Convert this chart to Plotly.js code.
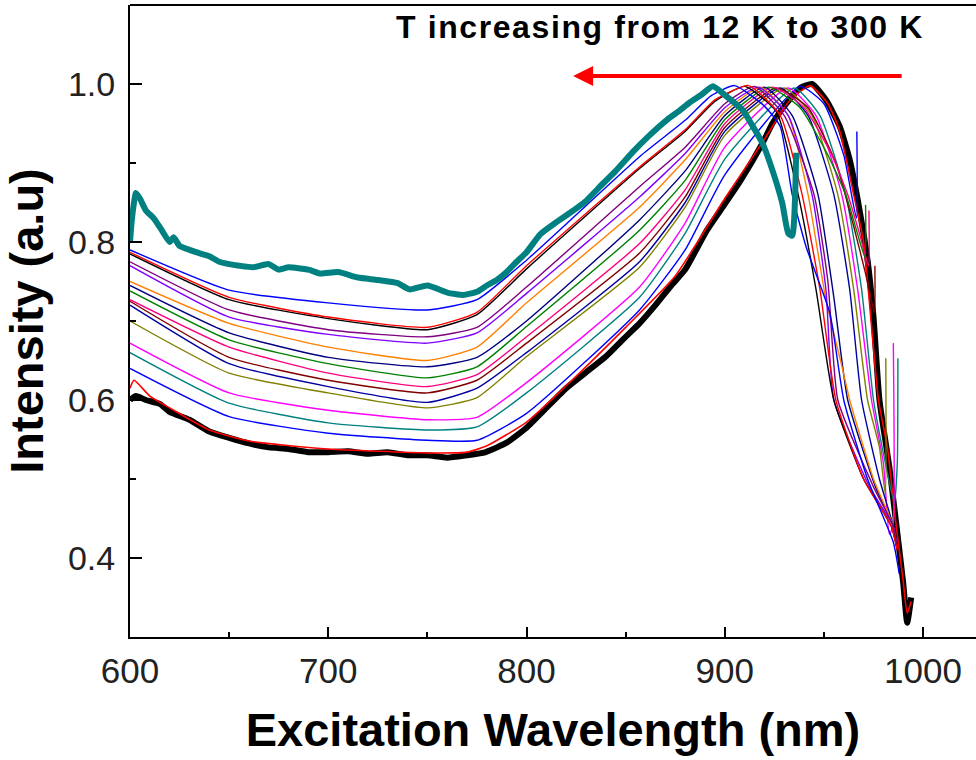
<!DOCTYPE html>
<html>
<head>
<meta charset="utf-8">
<script src="https://cdn.plot.ly/plotly-3.0.1.min.js"></script>
<style>
html,body{margin:0;padding:0;overflow:hidden;background:#fff;}
#chart{width:976px;height:760px;}
.annotation-text{letter-spacing:1.6px;}
</style>
</head>
<body>
<div id="chart"></div>
<script>
// ---- data ----
const tealThickX = [600,601,603,605,608,612,616,620,622,625,630,636,640,645,650,655,662,670,675,680,690,696,705,715,725,735,741,750,760,768,775,780,785,790,795,800,807,815,822,830,837,845,854,862,871,877,882,888,894,900,909,914,919,924,929,932,934,936];
const tealThickY = [0.80,0.83,0.862,0.855,0.84,0.83,0.815,0.80,0.806,0.795,0.79,0.785,0.782,0.775,0.772,0.77,0.768,0.772,0.765,0.768,0.765,0.76,0.762,0.755,0.752,0.748,0.74,0.745,0.736,0.733,0.737,0.745,0.752,0.762,0.775,0.787,0.81,0.825,0.837,0.852,0.87,0.89,0.915,0.935,0.955,0.966,0.976,0.986,0.997,0.986,0.967,0.947,0.925,0.891,0.849,0.811,0.808,0.913];

const blackThickX = [600,603,608,615,620,630,640,650,660,670,680,690,700,710,720,730,740,750,760,770,778,785,790,800,810,820,830,840,850,857,865,873,880,891,900,908,919,924,931,938,944,951,958,963,968,972,975,978,983,987,990,992,994];
const blackThickY = [0.60,0.605,0.60,0.595,0.585,0.575,0.56,0.552,0.545,0.54,0.538,0.534,0.534,0.535,0.532,0.534,0.53,0.53,0.527,0.53,0.533,0.54,0.546,0.565,0.59,0.615,0.635,0.655,0.68,0.697,0.72,0.745,0.765,0.815,0.848,0.878,0.925,0.95,0.975,0.995,1.0,0.98,0.946,0.904,0.84,0.777,0.705,0.60,0.515,0.432,0.368,0.318,0.35];

const redLowX = [600,602,610,620,640,660,700,750,770,780,800,820,850,875,900,920,932,943,952,958,965,970,977.5,982,986,990,992,994];
const redLowY = [0.615,0.625,0.605,0.59,0.562,0.548,0.538,0.533,0.534,0.542,0.572,0.618,0.692,0.757,0.855,0.93,0.977,0.998,0.975,0.94,0.86,0.80,0.60,0.54,0.45,0.37,0.33,0.345];

const blue2X = [600,650,700,750,775,800,857,880,900,938,950,960,966.4,966.6];
const blue2Y = [0.64,0.579,0.558,0.549,0.549,0.583,0.714,0.79,0.885,0.997,0.975,0.91,0.83,0.94];

const tealThinX = [600,650,700,750,775,800,857,880,900,935,948,961,969,975,981,985.5,987,987.3];
const tealThinY = [0.66,0.596,0.571,0.562,0.566,0.609,0.73,0.811,0.905,0.995,0.96,0.86,0.74,0.60,0.52,0.47,0.52,0.653];

const magentaX = [600,650,700,750,775,800,857,880,900,932,946,959,967,974,980,983,984.8,985];
const magentaY = [0.672,0.609,0.587,0.575,0.578,0.622,0.743,0.824,0.92,0.995,0.96,0.86,0.74,0.60,0.52,0.43,0.44,0.672];

const oliveX = [600,650,700,750,775,800,857,880,900,930,944,957,965,972,978,981,981.2];
const oliveY = [0.70,0.634,0.609,0.59,0.603,0.655,0.768,0.844,0.935,0.995,0.96,0.86,0.74,0.60,0.54,0.48,0.653];

const navy2X = [600,650,700,750,775,800,857,880,900,928,942,955,963,969,978,985,987];
const navy2Y = [0.72,0.646,0.617,0.597,0.615,0.66,0.775,0.85,0.94,0.995,0.96,0.86,0.74,0.60,0.50,0.44,0.41];

const wineX = [600,650,700,750,775,800,857,880,900,926,942,956,965,971,975.5,975.7];
const wineY = [0.725,0.654,0.625,0.609,0.625,0.672,0.786,0.857,0.945,0.995,0.97,0.9,0.82,0.76,0.71,0.77];

const pinkX = [600,650,700,750,775,800,857,880,900,924,940,954,962,968,972.5,972.7];
const pinkY = [0.727,0.667,0.634,0.617,0.632,0.68,0.798,0.866,0.95,0.996,0.97,0.91,0.86,0.81,0.77,0.84];

const greenX = [600,650,700,750,775,800,857,880,900,922,938,952,961,967,970.8,971];
const greenY = [0.738,0.676,0.646,0.628,0.642,0.693,0.815,0.878,0.955,0.996,0.97,0.91,0.86,0.81,0.78,0.847];

const navyX = [600,650,700,750,775,800,857,880,900,920,934,947,955,962,976,985,987];
const navyY = [0.745,0.685,0.654,0.642,0.654,0.70,0.828,0.89,0.96,0.996,0.96,0.86,0.73,0.60,0.49,0.44,0.41];

const orangeX = [600,650,700,750,775,800,857,880,900,918,932,942,951,959.5,963,975,985,987];
const orangeY = [0.75,0.697,0.667,0.65,0.667,0.723,0.844,0.904,0.965,0.996,0.96,0.86,0.727,0.638,0.60,0.50,0.44,0.41];

const violetX = [600,650,700,750,775,800,857,880,900,917,932,944,951,955,973,985,987];
const violetY = [0.77,0.705,0.683,0.672,0.685,0.735,0.857,0.912,0.97,0.996,0.96,0.86,0.74,0.60,0.49,0.44,0.41];

const purpleX = [600,650,700,750,775,800,857,880,900,915,930,945,952,957,975,985,987];
const purpleY = [0.775,0.714,0.689,0.68,0.692,0.743,0.87,0.92,0.975,0.997,0.96,0.86,0.75,0.60,0.49,0.44,0.41];

const blackThinX = [600,650,700,750,775,800,857,880,895,910,926,937,946,955,970,984,987];
const blackThinY = [0.785,0.727,0.703,0.689,0.708,0.766,0.893,0.94,0.978,0.997,0.965,0.86,0.74,0.60,0.50,0.44,0.41];

const redTopX = [600,650,700,750,775,800,857,880,895,912,928,939,948,956,970,984,987];
const redTopY = [0.787,0.73,0.705,0.692,0.711,0.77,0.895,0.942,0.98,0.998,0.96,0.86,0.74,0.60,0.50,0.44,0.41];

const blueTopX = [600,650,700,750,775,800,857,880,893,905,920,928,934,941,953,960,972,985,988];
const blueTopY = [0.79,0.739,0.723,0.714,0.727,0.777,0.908,0.954,0.985,0.998,0.972,0.946,0.86,0.794,0.71,0.60,0.50,0.42,0.38];

const xTickVals = [600,700,800,900,1000];
const yTickVals = [0.4,0.6,0.8,1.0];
const yTickText = ['0.4','0.6','0.8','1.0'];

// ---- traces ----
function thin(x, y, color, w) {
  return {x: x, y: y, type: 'scatter', mode: 'lines',
          line: {color: color, width: w || 1.4, shape: 'spline', smoothing: 0.5},
          hoverinfo: 'skip', showlegend: false};
}
const traces = [
  {x: blackThickX, y: blackThickY, type: 'scatter', mode: 'lines',
   line: {color: '#000000', width: 6, shape: 'spline', smoothing: 0.5}, showlegend: false},
  thin(redLowX, redLowY, '#FF0000', 1.6),
  thin(blue2X, blue2Y, '#0000FF'),
  thin(tealThinX, tealThinY, '#008080'),
  thin(magentaX, magentaY, '#FF00FF'),
  thin(oliveX, oliveY, '#808000'),
  thin(navy2X, navy2Y, '#0000A0'),
  thin(wineX, wineY, '#800000'),
  thin(pinkX, pinkY, '#FF0080'),
  thin(greenX, greenY, '#008000'),
  thin(navyX, navyY, '#000080'),
  thin(orangeX, orangeY, '#FF8000'),
  thin(violetX, violetY, '#8000FF'),
  thin(purpleX, purpleY, '#800080'),
  thin(blackThinX, blackThinY, '#000000'),
  thin(redTopX, redTopY, '#FF0000'),
  thin(blueTopX, blueTopY, '#0000FF'),
  {x: tealThickX, y: tealThickY, type: 'scatter', mode: 'lines',
   line: {color: '#008080', width: 6, shape: 'spline', smoothing: 0.5}, showlegend: false}
];

const layout = {
  width: 976, height: 760,
  margin: {l: 130, r: 0, t: 5, b: 123},
  paper_bgcolor: '#ffffff', plot_bgcolor: '#ffffff',
  showlegend: false,
  font: {family: 'Liberation Sans, Arial, sans-serif', color: '#000'},
  xaxis: {
    range: [600, 1026.7], showgrid: false, zeroline: false,
    showline: true, linecolor: '#000', linewidth: 2, mirror: false,
    ticks: 'inside', ticklen: 10, tickwidth: 2, tickcolor: '#000',
    tickvals: xTickVals, ticktext: xTickVals.map(String),
    tickfont: {size: 35, color: '#222'},
    ticklabelstandoff: 2,
    minor: {dtick: 50, tick0: 0, ticks: 'inside', ticklen: 5, tickwidth: 2, tickcolor: '#000', showgrid: false},
    title: {text: 'Excitation Wavelength (nm)', font: {size: 47, color: '#000', family: 'Liberation Sans, Arial', weight: 'bold'}, standoff: 24}
  },
  yaxis: {
    range: [0.3, 1.1], showgrid: false, zeroline: false,
    showline: true, linecolor: '#000', linewidth: 2, mirror: false,
    ticks: 'inside', ticklen: 12, tickwidth: 2, tickcolor: '#000',
    tickvals: yTickVals, ticktext: yTickText,
    tickfont: {size: 34, color: '#222'},
    ticklabelstandoff: 6,
    minor: {dtick: 0.1, tick0: 0, ticks: 'inside', ticklen: 6, tickwidth: 2, tickcolor: '#000', showgrid: false},
    title: {text: 'Intensity (a.u)', font: {size: 47, color: '#000', family: 'Liberation Sans, Arial', weight: 'bold'}, standoff: 12}
  },
  shapes: [
    {type: 'line', xref: 'paper', yref: 'paper', x0: 0, x1: 1, y0: 1, y1: 1,
     line: {color: '#000', width: 2}}
  ],
  annotations: [
    {xref: 'paper', yref: 'paper', x: 0.627, y: 0.997, xanchor: 'center', yanchor: 'top',
     text: 'T increasing from 12 K to 300 K', showarrow: false,
     font: {size: 32, color: '#000', family: 'Liberation Sans, Arial', weight: 'bold'}},
    {xref: 'x', yref: 'y', x: 823.5, y: 1.0101, text: '', showarrow: true,
     axref: 'pixel', ayref: 'pixel', ax: 330, ay: 0,
     arrowhead: 2, arrowsize: 1, arrowwidth: 4, arrowcolor: '#FF0000', standoff: 0, startstandoff: 0}
  ]
};

Plotly.newPlot('chart', traces, layout, {displayModeBar: false, staticPlot: true});
</script>
</body>
</html>
